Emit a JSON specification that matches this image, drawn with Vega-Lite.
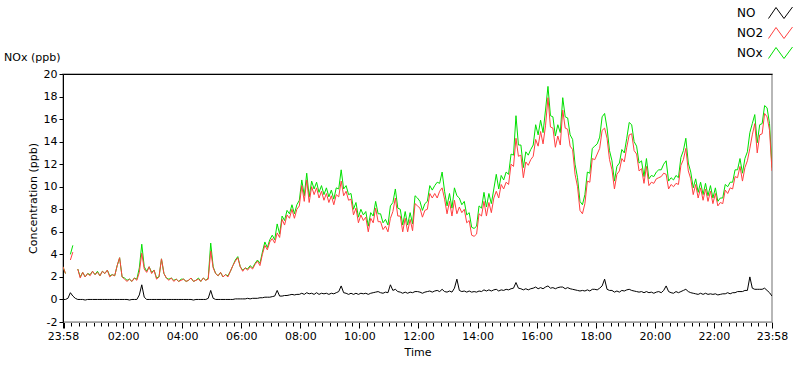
{
  "$schema": "https://vega.github.io/schema/vega-lite/v6.json",
  "width": 709,
  "height": 248,
  "autosize": {"type": "none"},
  "padding": {"left": 63, "top": 74, "right": 28, "bottom": 43},
  "background": "white",
  "title": {"text": "NOx (ppb)", "anchor": "start", "frame": "group", "dx": -59, "dy": 72, "offset": 12, "fontSize": 11, "fontWeight": "normal", "font": "DejaVu Sans", "color": "#000"},
  "config": {
    "font": "DejaVu Sans",
    "view": {"stroke": "#a0a0a0", "strokeWidth": 1.5},
    "axis": {"grid": false, "labelFontSize": 11, "titleFontSize": 11, "titleFontWeight": "normal", "labelColor": "#000", "titleColor": "#000", "tickColor": "#000"},
    "axisY": {"labelOverlap": false, "values": [-2,0,2,4,6,8,10,12,14,16,18,20], "labelExpr": "'' + datum.value", "tickSize": 4, "domainColor": "#000", "labelPadding": 2, "titlePadding": 5}
  },
  "data": {"values": [
    {"t":"2024-01-01T23:58Z","NO":0,"NO2":2.9,"NOx":2.9},
    {"t":"2024-01-02T00:03Z","NO":0,"NO2":2.3,"NOx":2.3},
    {"t":"2024-01-02T00:08Z","NO":0.1,"NO2":null,"NOx":null},
    {"t":"2024-01-02T00:13Z","NO":0.6,"NO2":3.5,"NOx":4.0},
    {"t":"2024-01-02T00:18Z","NO":0.3,"NO2":4.2,"NOx":4.8},
    {"t":"2024-01-02T00:23Z","NO":0.1,"NO2":null,"NOx":null},
    {"t":"2024-01-02T00:28Z","NO":0,"NO2":2.7,"NOx":2.7},
    {"t":"2024-01-02T00:33Z","NO":0,"NO2":1.9,"NOx":2.0},
    {"t":"2024-01-02T00:38Z","NO":0,"NO2":2.4,"NOx":2.4},
    {"t":"2024-01-02T00:43Z","NO":-0.05,"NO2":2.0,"NOx":2.0},
    {"t":"2024-01-02T00:48Z","NO":0,"NO2":2.3,"NOx":2.3},
    {"t":"2024-01-02T00:53Z","NO":0,"NO2":2.1,"NOx":2.2},
    {"t":"2024-01-02T00:58Z","NO":0,"NO2":2.5,"NOx":2.5},
    {"t":"2024-01-02T01:03Z","NO":0,"NO2":2.2,"NOx":2.2},
    {"t":"2024-01-02T01:08Z","NO":0,"NO2":2.4,"NOx":2.5},
    {"t":"2024-01-02T01:13Z","NO":0,"NO2":2.1,"NOx":2.1},
    {"t":"2024-01-02T01:18Z","NO":0,"NO2":2.5,"NOx":2.5},
    {"t":"2024-01-02T01:23Z","NO":0,"NO2":2.3,"NOx":2.3},
    {"t":"2024-01-02T01:28Z","NO":0,"NO2":2.6,"NOx":2.6},
    {"t":"2024-01-02T01:33Z","NO":0,"NO2":2.0,"NOx":2.1},
    {"t":"2024-01-02T01:38Z","NO":0,"NO2":2.2,"NOx":2.2},
    {"t":"2024-01-02T01:43Z","NO":0,"NO2":2.1,"NOx":2.1},
    {"t":"2024-01-02T01:48Z","NO":0,"NO2":3.0,"NOx":3.0},
    {"t":"2024-01-02T01:53Z","NO":0,"NO2":3.7,"NOx":3.7},
    {"t":"2024-01-02T01:58Z","NO":0,"NO2":2.0,"NOx":2.0},
    {"t":"2024-01-02T02:03Z","NO":0,"NO2":1.8,"NOx":1.9},
    {"t":"2024-01-02T02:08Z","NO":0,"NO2":1.6,"NOx":1.7},
    {"t":"2024-01-02T02:13Z","NO":-0.05,"NO2":1.8,"NOx":1.8},
    {"t":"2024-01-02T02:18Z","NO":0,"NO2":1.6,"NOx":1.6},
    {"t":"2024-01-02T02:23Z","NO":0,"NO2":1.9,"NOx":1.9},
    {"t":"2024-01-02T02:28Z","NO":0,"NO2":1.7,"NOx":1.8},
    {"t":"2024-01-02T02:33Z","NO":0.4,"NO2":2.4,"NOx":2.8},
    {"t":"2024-01-02T02:38Z","NO":1.3,"NO2":4.1,"NOx":4.9},
    {"t":"2024-01-02T02:43Z","NO":0.2,"NO2":2.7,"NOx":2.9},
    {"t":"2024-01-02T02:48Z","NO":0,"NO2":2.4,"NOx":2.5},
    {"t":"2024-01-02T02:53Z","NO":0,"NO2":2.9,"NOx":2.9},
    {"t":"2024-01-02T02:58Z","NO":0,"NO2":2.3,"NOx":2.4},
    {"t":"2024-01-02T03:03Z","NO":0,"NO2":2.6,"NOx":2.6},
    {"t":"2024-01-02T03:08Z","NO":0,"NO2":1.8,"NOx":1.9},
    {"t":"2024-01-02T03:13Z","NO":0,"NO2":2.0,"NOx":2.0},
    {"t":"2024-01-02T03:18Z","NO":0,"NO2":3.6,"NOx":3.6},
    {"t":"2024-01-02T03:23Z","NO":0,"NO2":2.3,"NOx":2.3},
    {"t":"2024-01-02T03:28Z","NO":0,"NO2":1.9,"NOx":1.9},
    {"t":"2024-01-02T03:33Z","NO":0,"NO2":1.7,"NOx":1.8},
    {"t":"2024-01-02T03:38Z","NO":0,"NO2":1.9,"NOx":1.9},
    {"t":"2024-01-02T03:43Z","NO":0,"NO2":1.6,"NOx":1.7},
    {"t":"2024-01-02T03:48Z","NO":0,"NO2":1.8,"NOx":1.8},
    {"t":"2024-01-02T03:53Z","NO":0,"NO2":1.6,"NOx":1.6},
    {"t":"2024-01-02T03:58Z","NO":0,"NO2":1.7,"NOx":1.8},
    {"t":"2024-01-02T04:03Z","NO":0,"NO2":1.8,"NOx":1.8},
    {"t":"2024-01-02T04:08Z","NO":0,"NO2":1.6,"NOx":1.6},
    {"t":"2024-01-02T04:13Z","NO":0,"NO2":1.7,"NOx":1.7},
    {"t":"2024-01-02T04:18Z","NO":0,"NO2":1.9,"NOx":1.9},
    {"t":"2024-01-02T04:23Z","NO":-0.05,"NO2":1.6,"NOx":1.6},
    {"t":"2024-01-02T04:28Z","NO":0,"NO2":1.7,"NOx":1.7},
    {"t":"2024-01-02T04:33Z","NO":0,"NO2":1.8,"NOx":1.9},
    {"t":"2024-01-02T04:38Z","NO":0,"NO2":1.6,"NOx":1.6},
    {"t":"2024-01-02T04:43Z","NO":0,"NO2":1.9,"NOx":1.9},
    {"t":"2024-01-02T04:48Z","NO":0,"NO2":1.7,"NOx":1.7},
    {"t":"2024-01-02T04:53Z","NO":0.1,"NO2":1.8,"NOx":1.9},
    {"t":"2024-01-02T04:58Z","NO":0.8,"NO2":4.3,"NOx":5.0},
    {"t":"2024-01-02T05:03Z","NO":0.1,"NO2":2.8,"NOx":2.9},
    {"t":"2024-01-02T05:08Z","NO":0,"NO2":2.3,"NOx":2.3},
    {"t":"2024-01-02T05:13Z","NO":0,"NO2":2.1,"NOx":2.1},
    {"t":"2024-01-02T05:18Z","NO":0,"NO2":2.4,"NOx":2.4},
    {"t":"2024-01-02T05:23Z","NO":0,"NO2":2.0,"NOx":2.0},
    {"t":"2024-01-02T05:28Z","NO":0,"NO2":2.2,"NOx":2.2},
    {"t":"2024-01-02T05:33Z","NO":0,"NO2":2.0,"NOx":2.1},
    {"t":"2024-01-02T05:38Z","NO":0,"NO2":2.5,"NOx":2.5},
    {"t":"2024-01-02T05:43Z","NO":0,"NO2":3.0,"NOx":3.0},
    {"t":"2024-01-02T05:48Z","NO":0.05,"NO2":3.4,"NOx":3.5},
    {"t":"2024-01-02T05:53Z","NO":0.05,"NO2":3.7,"NOx":3.8},
    {"t":"2024-01-02T05:58Z","NO":0.05,"NO2":2.9,"NOx":2.9},
    {"t":"2024-01-02T06:03Z","NO":0.05,"NO2":2.5,"NOx":2.6},
    {"t":"2024-01-02T06:08Z","NO":0.05,"NO2":2.8,"NOx":2.8},
    {"t":"2024-01-02T06:13Z","NO":0.1,"NO2":2.6,"NOx":2.7},
    {"t":"2024-01-02T06:18Z","NO":0.05,"NO2":2.9,"NOx":3.0},
    {"t":"2024-01-02T06:23Z","NO":0.1,"NO2":2.7,"NOx":2.8},
    {"t":"2024-01-02T06:28Z","NO":0.1,"NO2":3.1,"NOx":3.2},
    {"t":"2024-01-02T06:33Z","NO":0.1,"NO2":3.4,"NOx":3.5},
    {"t":"2024-01-02T06:38Z","NO":0.15,"NO2":3.0,"NOx":3.2},
    {"t":"2024-01-02T06:43Z","NO":0.15,"NO2":4.0,"NOx":4.2},
    {"t":"2024-01-02T06:48Z","NO":0.2,"NO2":4.8,"NOx":5.1},
    {"t":"2024-01-02T06:53Z","NO":0.2,"NO2":4.4,"NOx":4.6},
    {"t":"2024-01-02T06:58Z","NO":0.2,"NO2":5.1,"NOx":5.3},
    {"t":"2024-01-02T07:03Z","NO":0.25,"NO2":5.4,"NOx":5.7},
    {"t":"2024-01-02T07:08Z","NO":0.3,"NO2":5.0,"NOx":5.3},
    {"t":"2024-01-02T07:13Z","NO":0.8,"NO2":5.9,"NOx":6.7},
    {"t":"2024-01-02T07:18Z","NO":0.3,"NO2":5.5,"NOx":5.8},
    {"t":"2024-01-02T07:23Z","NO":0.3,"NO2":7.1,"NOx":7.4},
    {"t":"2024-01-02T07:28Z","NO":0.35,"NO2":6.6,"NOx":7.0},
    {"t":"2024-01-02T07:33Z","NO":0.35,"NO2":7.5,"NOx":7.9},
    {"t":"2024-01-02T07:38Z","NO":0.4,"NO2":7.2,"NOx":7.6},
    {"t":"2024-01-02T07:43Z","NO":0.45,"NO2":8.0,"NOx":8.4},
    {"t":"2024-01-02T07:48Z","NO":0.4,"NO2":7.2,"NOx":7.6},
    {"t":"2024-01-02T07:53Z","NO":0.45,"NO2":8.0,"NOx":8.4},
    {"t":"2024-01-02T07:58Z","NO":0.45,"NO2":8.3,"NOx":8.8},
    {"t":"2024-01-02T08:03Z","NO":0.55,"NO2":10.1,"NOx":10.6},
    {"t":"2024-01-02T08:08Z","NO":0.45,"NO2":8.7,"NOx":9.2},
    {"t":"2024-01-02T08:13Z","NO":0.6,"NO2":10.6,"NOx":11.2},
    {"t":"2024-01-02T08:18Z","NO":0.5,"NO2":8.6,"NOx":9.1},
    {"t":"2024-01-02T08:23Z","NO":0.55,"NO2":10.0,"NOx":10.5},
    {"t":"2024-01-02T08:28Z","NO":0.45,"NO2":9.3,"NOx":9.8},
    {"t":"2024-01-02T08:33Z","NO":0.6,"NO2":9.9,"NOx":10.4},
    {"t":"2024-01-02T08:38Z","NO":0.45,"NO2":9.0,"NOx":9.5},
    {"t":"2024-01-02T08:43Z","NO":0.55,"NO2":9.6,"NOx":10.1},
    {"t":"2024-01-02T08:48Z","NO":0.5,"NO2":8.8,"NOx":9.3},
    {"t":"2024-01-02T08:53Z","NO":0.55,"NO2":9.4,"NOx":9.9},
    {"t":"2024-01-02T08:58Z","NO":0.45,"NO2":8.6,"NOx":9.1},
    {"t":"2024-01-02T09:03Z","NO":0.55,"NO2":9.2,"NOx":9.7},
    {"t":"2024-01-02T09:08Z","NO":0.5,"NO2":8.4,"NOx":8.9},
    {"t":"2024-01-02T09:13Z","NO":0.6,"NO2":9.3,"NOx":9.9},
    {"t":"2024-01-02T09:18Z","NO":0.7,"NO2":9.1,"NOx":9.8},
    {"t":"2024-01-02T09:23Z","NO":1.2,"NO2":10.5,"NOx":11.5},
    {"t":"2024-01-02T09:28Z","NO":0.6,"NO2":9.2,"NOx":9.8},
    {"t":"2024-01-02T09:33Z","NO":0.55,"NO2":9.6,"NOx":10.1},
    {"t":"2024-01-02T09:38Z","NO":0.45,"NO2":8.8,"NOx":9.3},
    {"t":"2024-01-02T09:43Z","NO":0.55,"NO2":8.9,"NOx":9.4},
    {"t":"2024-01-02T09:48Z","NO":0.45,"NO2":7.5,"NOx":8.0},
    {"t":"2024-01-02T09:53Z","NO":0.55,"NO2":8.1,"NOx":8.6},
    {"t":"2024-01-02T09:58Z","NO":0.45,"NO2":6.8,"NOx":7.3},
    {"t":"2024-01-02T10:03Z","NO":0.55,"NO2":7.5,"NOx":8.0},
    {"t":"2024-01-02T10:08Z","NO":0.5,"NO2":7.0,"NOx":7.5},
    {"t":"2024-01-02T10:13Z","NO":0.55,"NO2":7.3,"NOx":7.8},
    {"t":"2024-01-02T10:18Z","NO":0.45,"NO2":6.0,"NOx":6.5},
    {"t":"2024-01-02T10:23Z","NO":0.55,"NO2":7.2,"NOx":7.7},
    {"t":"2024-01-02T10:28Z","NO":0.6,"NO2":6.8,"NOx":7.4},
    {"t":"2024-01-02T10:33Z","NO":0.65,"NO2":8.1,"NOx":8.7},
    {"t":"2024-01-02T10:38Z","NO":0.7,"NO2":6.9,"NOx":7.6},
    {"t":"2024-01-02T10:43Z","NO":0.6,"NO2":6.9,"NOx":7.6},
    {"t":"2024-01-02T10:48Z","NO":0.55,"NO2":6.2,"NOx":6.8},
    {"t":"2024-01-02T10:53Z","NO":0.65,"NO2":6.5,"NOx":7.1},
    {"t":"2024-01-02T10:58Z","NO":0.6,"NO2":6.0,"NOx":6.6},
    {"t":"2024-01-02T11:03Z","NO":1.3,"NO2":7.2,"NOx":8.3},
    {"t":"2024-01-02T11:08Z","NO":0.8,"NO2":7.8,"NOx":8.6},
    {"t":"2024-01-02T11:13Z","NO":0.9,"NO2":9.0,"NOx":9.8},
    {"t":"2024-01-02T11:18Z","NO":0.7,"NO2":7.4,"NOx":8.1},
    {"t":"2024-01-02T11:23Z","NO":0.65,"NO2":7.4,"NOx":8.0},
    {"t":"2024-01-02T11:28Z","NO":0.55,"NO2":6.0,"NOx":6.6},
    {"t":"2024-01-02T11:33Z","NO":0.65,"NO2":7.2,"NOx":7.8},
    {"t":"2024-01-02T11:38Z","NO":0.55,"NO2":6.0,"NOx":6.6},
    {"t":"2024-01-02T11:43Z","NO":0.65,"NO2":7.1,"NOx":7.7},
    {"t":"2024-01-02T11:48Z","NO":0.6,"NO2":6.1,"NOx":6.7},
    {"t":"2024-01-02T11:53Z","NO":0.7,"NO2":8.5,"NOx":9.2},
    {"t":"2024-01-02T11:58Z","NO":0.7,"NO2":8.3,"NOx":9.0},
    {"t":"2024-01-02T12:03Z","NO":0.65,"NO2":8.1,"NOx":8.7},
    {"t":"2024-01-02T12:08Z","NO":0.55,"NO2":7.3,"NOx":7.9},
    {"t":"2024-01-02T12:13Z","NO":0.65,"NO2":7.9,"NOx":8.5},
    {"t":"2024-01-02T12:18Z","NO":0.7,"NO2":8.0,"NOx":8.7},
    {"t":"2024-01-02T12:23Z","NO":0.75,"NO2":9.4,"NOx":10.1},
    {"t":"2024-01-02T12:28Z","NO":0.65,"NO2":9.0,"NOx":9.7},
    {"t":"2024-01-02T12:33Z","NO":0.75,"NO2":9.4,"NOx":10.1},
    {"t":"2024-01-02T12:38Z","NO":0.8,"NO2":9.0,"NOx":10.4},
    {"t":"2024-01-02T12:43Z","NO":0.7,"NO2":9.6,"NOx":10.3},
    {"t":"2024-01-02T12:48Z","NO":0.9,"NO2":9.9,"NOx":11.3},
    {"t":"2024-01-02T12:53Z","NO":0.7,"NO2":8.9,"NOx":9.6},
    {"t":"2024-01-02T12:58Z","NO":0.65,"NO2":7.6,"NOx":8.3},
    {"t":"2024-01-02T13:03Z","NO":0.75,"NO2":8.7,"NOx":9.4},
    {"t":"2024-01-02T13:08Z","NO":0.65,"NO2":7.4,"NOx":8.1},
    {"t":"2024-01-02T13:13Z","NO":1.0,"NO2":8.8,"NOx":9.9},
    {"t":"2024-01-02T13:18Z","NO":1.8,"NO2":7.6,"NOx":9.2},
    {"t":"2024-01-02T13:23Z","NO":0.8,"NO2":8.2,"NOx":9.0},
    {"t":"2024-01-02T13:28Z","NO":0.7,"NO2":7.7,"NOx":8.4},
    {"t":"2024-01-02T13:33Z","NO":0.75,"NO2":8.0,"NOx":8.7},
    {"t":"2024-01-02T13:38Z","NO":0.65,"NO2":6.8,"NOx":7.5},
    {"t":"2024-01-02T13:43Z","NO":0.75,"NO2":7.0,"NOx":7.7},
    {"t":"2024-01-02T13:48Z","NO":0.65,"NO2":5.7,"NOx":6.4},
    {"t":"2024-01-02T13:53Z","NO":0.7,"NO2":5.6,"NOx":6.3},
    {"t":"2024-01-02T13:58Z","NO":0.65,"NO2":5.8,"NOx":6.5},
    {"t":"2024-01-02T14:03Z","NO":0.75,"NO2":7.6,"NOx":8.3},
    {"t":"2024-01-02T14:08Z","NO":0.7,"NO2":7.4,"NOx":8.1},
    {"t":"2024-01-02T14:13Z","NO":0.85,"NO2":8.7,"NOx":9.5},
    {"t":"2024-01-02T14:18Z","NO":0.75,"NO2":7.4,"NOx":8.2},
    {"t":"2024-01-02T14:23Z","NO":0.85,"NO2":8.6,"NOx":9.4},
    {"t":"2024-01-02T14:28Z","NO":0.75,"NO2":7.7,"NOx":8.5},
    {"t":"2024-01-02T14:33Z","NO":0.85,"NO2":9.0,"NOx":9.8},
    {"t":"2024-01-02T14:38Z","NO":0.9,"NO2":9.6,"NOx":11.1},
    {"t":"2024-01-02T14:43Z","NO":0.75,"NO2":9.0,"NOx":9.8},
    {"t":"2024-01-02T14:48Z","NO":0.85,"NO2":10.2,"NOx":11.0},
    {"t":"2024-01-02T14:53Z","NO":0.8,"NO2":9.8,"NOx":10.6},
    {"t":"2024-01-02T14:58Z","NO":0.9,"NO2":10.4,"NOx":11.3},
    {"t":"2024-01-02T15:03Z","NO":0.85,"NO2":10.2,"NOx":11.1},
    {"t":"2024-01-02T15:08Z","NO":0.95,"NO2":12.0,"NOx":12.9},
    {"t":"2024-01-02T15:13Z","NO":1.0,"NO2":11.8,"NOx":12.8},
    {"t":"2024-01-02T15:18Z","NO":1.5,"NO2":14.3,"NOx":16.3},
    {"t":"2024-01-02T15:23Z","NO":1.0,"NO2":12.7,"NOx":13.7},
    {"t":"2024-01-02T15:28Z","NO":0.95,"NO2":12.8,"NOx":13.7},
    {"t":"2024-01-02T15:33Z","NO":0.85,"NO2":10.8,"NOx":11.7},
    {"t":"2024-01-02T15:38Z","NO":0.95,"NO2":12.2,"NOx":13.1},
    {"t":"2024-01-02T15:43Z","NO":0.85,"NO2":11.9,"NOx":12.8},
    {"t":"2024-01-02T15:48Z","NO":0.95,"NO2":12.4,"NOx":13.3},
    {"t":"2024-01-02T15:53Z","NO":1.0,"NO2":12.7,"NOx":13.7},
    {"t":"2024-01-02T15:58Z","NO":1.1,"NO2":14.2,"NOx":15.5},
    {"t":"2024-01-02T16:03Z","NO":0.95,"NO2":13.6,"NOx":14.6},
    {"t":"2024-01-02T16:08Z","NO":1.05,"NO2":14.9,"NOx":15.9},
    {"t":"2024-01-02T16:13Z","NO":0.95,"NO2":13.8,"NOx":14.8},
    {"t":"2024-01-02T16:18Z","NO":1.1,"NO2":15.4,"NOx":16.8},
    {"t":"2024-01-02T16:23Z","NO":1.2,"NO2":17.9,"NOx":18.9},
    {"t":"2024-01-02T16:28Z","NO":1.0,"NO2":15.3,"NOx":16.3},
    {"t":"2024-01-02T16:33Z","NO":1.05,"NO2":15.2,"NOx":16.2},
    {"t":"2024-01-02T16:38Z","NO":0.95,"NO2":13.5,"NOx":14.5},
    {"t":"2024-01-02T16:43Z","NO":1.05,"NO2":14.5,"NOx":15.5},
    {"t":"2024-01-02T16:48Z","NO":1.1,"NO2":13.7,"NOx":14.8},
    {"t":"2024-01-02T16:53Z","NO":1.1,"NO2":16.8,"NOx":17.9},
    {"t":"2024-01-02T16:58Z","NO":0.95,"NO2":15.2,"NOx":16.2},
    {"t":"2024-01-02T17:03Z","NO":1.05,"NO2":15.1,"NOx":16.1},
    {"t":"2024-01-02T17:08Z","NO":0.95,"NO2":13.6,"NOx":14.6},
    {"t":"2024-01-02T17:13Z","NO":0.9,"NO2":13.3,"NOx":14.2},
    {"t":"2024-01-02T17:18Z","NO":0.85,"NO2":11.1,"NOx":12.0},
    {"t":"2024-01-02T17:23Z","NO":0.8,"NO2":10.0,"NOx":10.8},
    {"t":"2024-01-02T17:28Z","NO":0.75,"NO2":7.9,"NOx":8.7},
    {"t":"2024-01-02T17:33Z","NO":0.8,"NO2":7.6,"NOx":8.4},
    {"t":"2024-01-02T17:38Z","NO":0.75,"NO2":8.5,"NOx":9.3},
    {"t":"2024-01-02T17:43Z","NO":0.85,"NO2":10.5,"NOx":11.3},
    {"t":"2024-01-02T17:48Z","NO":0.75,"NO2":10.4,"NOx":11.2},
    {"t":"2024-01-02T17:53Z","NO":0.9,"NO2":12.5,"NOx":13.4},
    {"t":"2024-01-02T17:58Z","NO":0.9,"NO2":12.4,"NOx":13.6},
    {"t":"2024-01-02T18:03Z","NO":0.85,"NO2":12.9,"NOx":13.8},
    {"t":"2024-01-02T18:08Z","NO":1.0,"NO2":13.4,"NOx":14.4},
    {"t":"2024-01-02T18:13Z","NO":1.2,"NO2":15.0,"NOx":16.2},
    {"t":"2024-01-02T18:18Z","NO":1.8,"NO2":15.2,"NOx":16.5},
    {"t":"2024-01-02T18:23Z","NO":0.9,"NO2":14.3,"NOx":15.2},
    {"t":"2024-01-02T18:28Z","NO":0.8,"NO2":12.4,"NOx":13.2},
    {"t":"2024-01-02T18:33Z","NO":0.8,"NO2":11.5,"NOx":12.3},
    {"t":"2024-01-02T18:38Z","NO":0.65,"NO2":9.8,"NOx":10.5},
    {"t":"2024-01-02T18:43Z","NO":0.75,"NO2":11.1,"NOx":11.8},
    {"t":"2024-01-02T18:48Z","NO":0.65,"NO2":11.4,"NOx":12.1},
    {"t":"2024-01-02T18:53Z","NO":0.8,"NO2":12.5,"NOx":13.3},
    {"t":"2024-01-02T18:58Z","NO":0.75,"NO2":12.2,"NOx":13.0},
    {"t":"2024-01-02T19:03Z","NO":0.85,"NO2":13.5,"NOx":14.3},
    {"t":"2024-01-02T19:08Z","NO":0.9,"NO2":14.6,"NOx":15.7},
    {"t":"2024-01-02T19:13Z","NO":0.8,"NO2":14.7,"NOx":15.5},
    {"t":"2024-01-02T19:18Z","NO":0.75,"NO2":13.2,"NOx":14.0},
    {"t":"2024-01-02T19:23Z","NO":0.7,"NO2":12.9,"NOx":13.6},
    {"t":"2024-01-02T19:28Z","NO":0.65,"NO2":11.4,"NOx":12.1},
    {"t":"2024-01-02T19:33Z","NO":0.7,"NO2":11.6,"NOx":12.3},
    {"t":"2024-01-02T19:38Z","NO":0.6,"NO2":10.3,"NOx":10.9},
    {"t":"2024-01-02T19:43Z","NO":0.7,"NO2":11.8,"NOx":12.5},
    {"t":"2024-01-02T19:48Z","NO":0.6,"NO2":10.1,"NOx":10.7},
    {"t":"2024-01-02T19:53Z","NO":0.65,"NO2":10.4,"NOx":11.0},
    {"t":"2024-01-02T19:58Z","NO":0.55,"NO2":10.3,"NOx":10.9},
    {"t":"2024-01-02T20:03Z","NO":0.65,"NO2":10.7,"NOx":11.3},
    {"t":"2024-01-02T20:08Z","NO":0.7,"NO2":10.8,"NOx":11.5},
    {"t":"2024-01-02T20:13Z","NO":0.6,"NO2":10.9,"NOx":11.5},
    {"t":"2024-01-02T20:18Z","NO":0.8,"NO2":11.2,"NOx":12.0},
    {"t":"2024-01-02T20:23Z","NO":1.2,"NO2":11.1,"NOx":12.3},
    {"t":"2024-01-02T20:28Z","NO":0.7,"NO2":9.8,"NOx":10.5},
    {"t":"2024-01-02T20:33Z","NO":0.6,"NO2":10.2,"NOx":10.8},
    {"t":"2024-01-02T20:38Z","NO":0.55,"NO2":10.0,"NOx":10.6},
    {"t":"2024-01-02T20:43Z","NO":0.7,"NO2":10.3,"NOx":11.0},
    {"t":"2024-01-02T20:48Z","NO":0.6,"NO2":10.2,"NOx":10.8},
    {"t":"2024-01-02T20:53Z","NO":0.7,"NO2":11.9,"NOx":12.6},
    {"t":"2024-01-02T20:58Z","NO":0.8,"NO2":12.4,"NOx":13.2},
    {"t":"2024-01-02T21:03Z","NO":0.9,"NO2":13.4,"NOx":14.3},
    {"t":"2024-01-02T21:08Z","NO":0.7,"NO2":11.4,"NOx":12.1},
    {"t":"2024-01-02T21:13Z","NO":0.6,"NO2":10.7,"NOx":11.3},
    {"t":"2024-01-02T21:18Z","NO":0.55,"NO2":9.3,"NOx":9.9},
    {"t":"2024-01-02T21:23Z","NO":0.5,"NO2":10.2,"NOx":10.7},
    {"t":"2024-01-02T21:28Z","NO":0.45,"NO2":9.0,"NOx":9.5},
    {"t":"2024-01-02T21:33Z","NO":0.55,"NO2":9.9,"NOx":10.4},
    {"t":"2024-01-02T21:38Z","NO":0.45,"NO2":8.8,"NOx":9.3},
    {"t":"2024-01-02T21:43Z","NO":0.55,"NO2":9.8,"NOx":10.3},
    {"t":"2024-01-02T21:48Z","NO":0.45,"NO2":8.7,"NOx":9.2},
    {"t":"2024-01-02T21:53Z","NO":0.5,"NO2":9.6,"NOx":10.1},
    {"t":"2024-01-02T21:58Z","NO":0.45,"NO2":8.5,"NOx":9.0},
    {"t":"2024-01-02T22:03Z","NO":0.5,"NO2":9.4,"NOx":9.9},
    {"t":"2024-01-02T22:08Z","NO":0.4,"NO2":8.3,"NOx":8.7},
    {"t":"2024-01-02T22:13Z","NO":0.45,"NO2":8.6,"NOx":9.0},
    {"t":"2024-01-02T22:18Z","NO":0.5,"NO2":8.5,"NOx":9.0},
    {"t":"2024-01-02T22:23Z","NO":0.5,"NO2":9.7,"NOx":10.2},
    {"t":"2024-01-02T22:28Z","NO":0.6,"NO2":9.4,"NOx":10.0},
    {"t":"2024-01-02T22:33Z","NO":0.5,"NO2":9.9,"NOx":10.4},
    {"t":"2024-01-02T22:38Z","NO":0.6,"NO2":9.8,"NOx":10.4},
    {"t":"2024-01-02T22:43Z","NO":0.6,"NO2":10.9,"NOx":11.5},
    {"t":"2024-01-02T22:48Z","NO":0.7,"NO2":10.8,"NOx":11.5},
    {"t":"2024-01-02T22:53Z","NO":0.7,"NO2":11.8,"NOx":12.5},
    {"t":"2024-01-02T22:58Z","NO":0.7,"NO2":10.5,"NOx":11.2},
    {"t":"2024-01-02T23:03Z","NO":0.8,"NO2":11.7,"NOx":12.5},
    {"t":"2024-01-02T23:08Z","NO":0.8,"NO2":12.3,"NOx":13.1},
    {"t":"2024-01-02T23:13Z","NO":2.0,"NO2":13.4,"NOx":14.8},
    {"t":"2024-01-02T23:18Z","NO":1.0,"NO2":14.6,"NOx":15.6},
    {"t":"2024-01-02T23:23Z","NO":0.9,"NO2":15.6,"NOx":16.4},
    {"t":"2024-01-02T23:28Z","NO":0.9,"NO2":13.0,"NOx":13.9},
    {"t":"2024-01-02T23:33Z","NO":0.9,"NO2":14.6,"NOx":15.5},
    {"t":"2024-01-02T23:38Z","NO":0.9,"NO2":14.7,"NOx":15.6},
    {"t":"2024-01-02T23:43Z","NO":1.0,"NO2":16.5,"NOx":17.2},
    {"t":"2024-01-02T23:48Z","NO":0.8,"NO2":16.2,"NOx":17.0},
    {"t":"2024-01-02T23:53Z","NO":0.6,"NO2":15.0,"NOx":15.6},
    {"t":"2024-01-02T23:58Z","NO":0.3,"NO2":11.4,"NOx":11.7}
  ]},
  "resolve": {"axis": {"x": "independent"}},
  "layer": [
    {
      "mark": {"type": "line", "strokeWidth": 1, "clip": true},
      "encoding": {
        "x": {"field": "t", "type": "temporal",
          "scale": {"type": "utc", "domain": [1704153480000, 1704239880000], "nice": false},
          "axis": {
            "orient": "bottom", "title": "Time", "titlePadding": 5,
            "values": [1704153480000,1704153600000,1704154500000,1704155400000,1704156300000,1704157200000,1704158100000,1704159000000,1704159900000,1704160800000,1704161700000,1704162600000,1704163500000,1704164400000,1704165300000,1704166200000,1704167100000,1704168000000,1704168900000,1704169800000,1704170700000,1704171600000,1704172500000,1704173400000,1704174300000,1704175200000,1704176100000,1704177000000,1704177900000,1704178800000,1704179700000,1704180600000,1704181500000,1704182400000,1704183300000,1704184200000,1704185100000,1704186000000,1704186900000,1704187800000,1704188700000,1704189600000,1704190500000,1704191400000,1704192300000,1704193200000,1704194100000,1704195000000,1704195900000,1704196800000,1704197700000,1704198600000,1704199500000,1704200400000,1704201300000,1704202200000,1704203100000,1704204000000,1704204900000,1704205800000,1704206700000,1704207600000,1704208500000,1704209400000,1704210300000,1704211200000,1704212100000,1704213000000,1704213900000,1704214800000,1704215700000,1704216600000,1704217500000,1704218400000,1704219300000,1704220200000,1704221100000,1704222000000,1704222900000,1704223800000,1704224700000,1704225600000,1704226500000,1704227400000,1704228300000,1704229200000,1704230100000,1704231000000,1704231900000,1704232800000,1704233700000,1704234600000,1704235500000,1704236400000,1704237300000,1704238200000,1704239100000,1704239880000],
            "labelExpr": "utcminutes(datum.value) == 58 || (utcminutes(datum.value) == 0 && utchours(datum.value) % 2 == 0 && utchours(datum.value) > 0) ? utcFormat(datum.value, '%H:%M') : ''",
            "tickSize": {"condition": {"test": "utcminutes(datum.value) == 58 || (utcminutes(datum.value) == 0 && utchours(datum.value) % 2 == 0)", "value": 6}, "value": 4},
            "domainColor": "#a0a0a0", "labelFlush": false, "labelOverlap": false, "labelPadding": 2
          }
        },
        "y": {"field": "NOx", "type": "quantitative", "title": "Concentration (ppb)",
          "scale": {"domain": [-2, 20], "nice": false, "zero": false}
        },
        "color": {"datum": "NOx", "type": "nominal",
          "scale": {"domain": ["NO", "NO2", "NOx"], "range": ["#000000", "#ff4040", "#00e000"]},
          "legend": {
            "orient": "none", "legendX": 707, "legendY": -71.5, "title": null,
            "symbolType": "M-1.2,0.55L-0.45,-0.55L0.35,0.55L1.2,-0.6",
            "symbolSize": 400, "symbolStrokeWidth": 1, "rowPadding": 2,
            "labelAlign": "left", "labelOffset": -54, "labelFontSize": 12, "labelColor": "#000",
            "encode": {"symbols": {"update": {"fill": {"value": "transparent"}, "strokeWidth": {"value": 1}}}}
          }
        }
      }
    },
    {
      "mark": {"type": "line", "strokeWidth": 1, "clip": true},
      "encoding": {
        "x": {"field": "t", "type": "temporal",
          "axis": {"orient": "top", "labels": false, "ticks": false, "title": null, "domainColor": "#000"}},
        "y": {"field": "NO2", "type": "quantitative", "title": "Concentration (ppb)"},
        "color": {"datum": "NO2", "type": "nominal"}
      }
    },
    {
      "mark": {"type": "line", "strokeWidth": 1, "clip": true},
      "encoding": {
        "x": {"field": "t", "type": "temporal", "axis": null},
        "y": {"field": "NO", "type": "quantitative", "title": "Concentration (ppb)"},
        "color": {"datum": "NO", "type": "nominal"}
      }
    }
  ]
}
